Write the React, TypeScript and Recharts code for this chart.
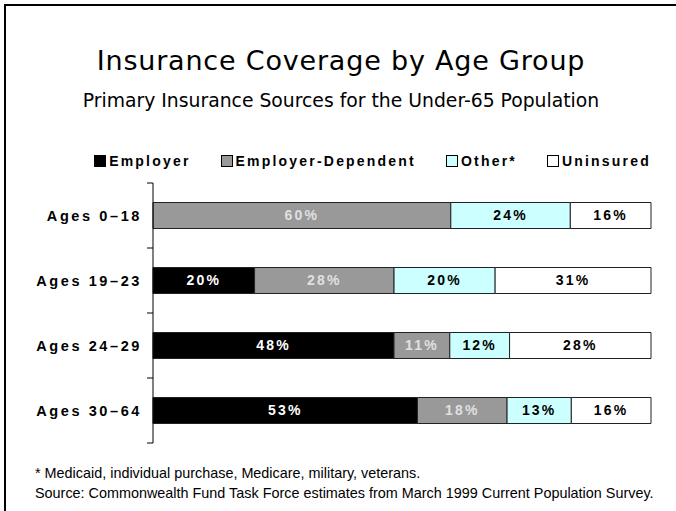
import React from "react";
import { BarChart, Bar, XAxis, YAxis, LabelList } from "recharts";

// age groups on the category axis
const ageGroups = ["Ages 0–18", "Ages 19–23", "Ages 24–29", "Ages 30–64"];

// shares in percent
const employer = [0, 20.4, 48.4, 53.1];
const employerDependent = [59.8, 28.0, 11.2, 18.0];
const other = [24.0, 20.3, 12.0, 12.9];
const uninsured = [16.2, 31.3, 28.4, 16.0];

const seriesKeys = ["employer", "employerDependent", "other", "uninsured"];
const seriesNames = ["Employer", "Employer-Dependent", "Other*", "Uninsured"];
const seriesColors = ["#000000", "#999999", "#CCFFFF", "#FFFFFF"];
const labelColors = ["#FFFFFF", "#E0E0E0", "#000000", "#000000"];

const data = ageGroups.map((group, i) => ({
  group,
  employer: employer[i],
  employerDependent: employerDependent[i],
  other: other[i],
  uninsured: uninsured[i],
}));

const FONT = '"Liberation Sans", Arial, sans-serif';
const TITLE_FONT = '"DejaVu Sans", Verdana, sans-serif';
const labelStyle = { fontFamily: FONT, fontWeight: 700, fontSize: 14, letterSpacing: 2.2 };
const ageStyle = { fontFamily: FONT, fontWeight: 700, fontSize: 14.5, letterSpacing: 2.6 };

const TICK_GAP = 12;
const fmt = (v: any) => (v > 0 ? `${Math.round(v)}%` : "");

// label plus the tick marks at the band edges (ticks sit between categories)
const AgeTick = (props: any) => {
  const { x, y, payload, index, visibleTicksCount } = props;
  const axisX = x + TICK_GAP;
  const half = payload.offset || 0;
  const last = index === (visibleTicksCount ?? ageGroups.length) - 1;
  return (
    <g>
      <line x1={axisX - 6} x2={axisX} y1={y - half} y2={y - half} stroke="#000" />
      {last && <line x1={axisX - 6} x2={axisX} y1={y + half} y2={y + half} stroke="#000" />}
      <text x={x + 1} y={y} dy={5} textAnchor="end" fill="#000" style={ageStyle}>
        {payload.value}
      </text>
    </g>
  );
};

export default function App() {
  return (
    <div
      style={{
        position: "absolute",
        left: 0,
        top: 0,
        width: 676,
        height: 511,
        overflow: "hidden",
        background: "#fff",
        fontFamily: FONT,
      }}
    >
      {/* frame */}
      <div
        style={{
          position: "absolute",
          left: 4,
          top: 4,
          width: 800,
          height: 700,
          border: "2px solid #000",
        }}
      />
      <div style={{ position: "absolute", left: 0, width: 682, top: 45, textAlign: "center", fontFamily: TITLE_FONT, fontSize: 27, letterSpacing: 0.8, color: "#000" }}>
        Insurance Coverage by Age Group
      </div>
      <div style={{ position: "absolute", left: 0, width: 682, top: 90, textAlign: "center", fontFamily: TITLE_FONT, fontSize: 18.8, color: "#000" }}>
        Primary Insurance Sources for the Under-65 Population
      </div>

      {/* legend */}
      <div
        style={{
          position: "absolute",
          right: 25,
          top: 153,
          display: "flex",
          gap: 30,
          alignItems: "center",
        }}
      >
        {seriesNames.map((name, i) => (
          <div key={name} style={{ display: "flex", alignItems: "center", gap: 3 }}>
            <div
              style={{
                width: 10,
                height: 10,
                background: seriesColors[i],
                border: "1px solid #000",
              }}
            />
            <span style={{ ...labelStyle, color: "#000" }}>{name}</span>
          </div>
        ))}
      </div>

      <div style={{ position: "absolute", left: 0, top: 0 }}>
        <BarChart
          width={676}
          height={511}
          data={data}
          layout="vertical"
          margin={{ top: 183, right: 25, bottom: 68, left: 152 }}
          barCategoryGap="30%"
        >
          <XAxis type="number" domain={[0, 100]} hide />
          <YAxis
            type="category"
            dataKey="group"
            width={1}
            axisLine={{ stroke: "#000" }}
            tickLine={false}
            tickSize={0}
            tickMargin={TICK_GAP}
            interval={0}
            tick={<AgeTick />}
          />
          {seriesKeys.map((key, i) => (
            <Bar
              key={key}
              dataKey={key}
              name={seriesNames[i]}
              stackId="a"
              fill={seriesColors[i]}
              stroke="#222"
              strokeWidth={1}
              isAnimationActive={false}
            >
              <LabelList
                dataKey={key}
                position="center"
                formatter={fmt}
                fill={labelColors[i]}
                style={labelStyle}
              />
            </Bar>
          ))}
        </BarChart>
      </div>

      <div style={{ position: "absolute", left: 35, top: 465, fontSize: 14.4, color: "#000" }}>
        * Medicaid, individual purchase, Medicare, military, veterans.
      </div>
      <div style={{ position: "absolute", left: 35, top: 485, fontSize: 14.4, color: "#000" }}>
        Source: Commonwealth Fund Task Force estimates from March 1999 Current Population Survey.
      </div>
    </div>
  );
}
